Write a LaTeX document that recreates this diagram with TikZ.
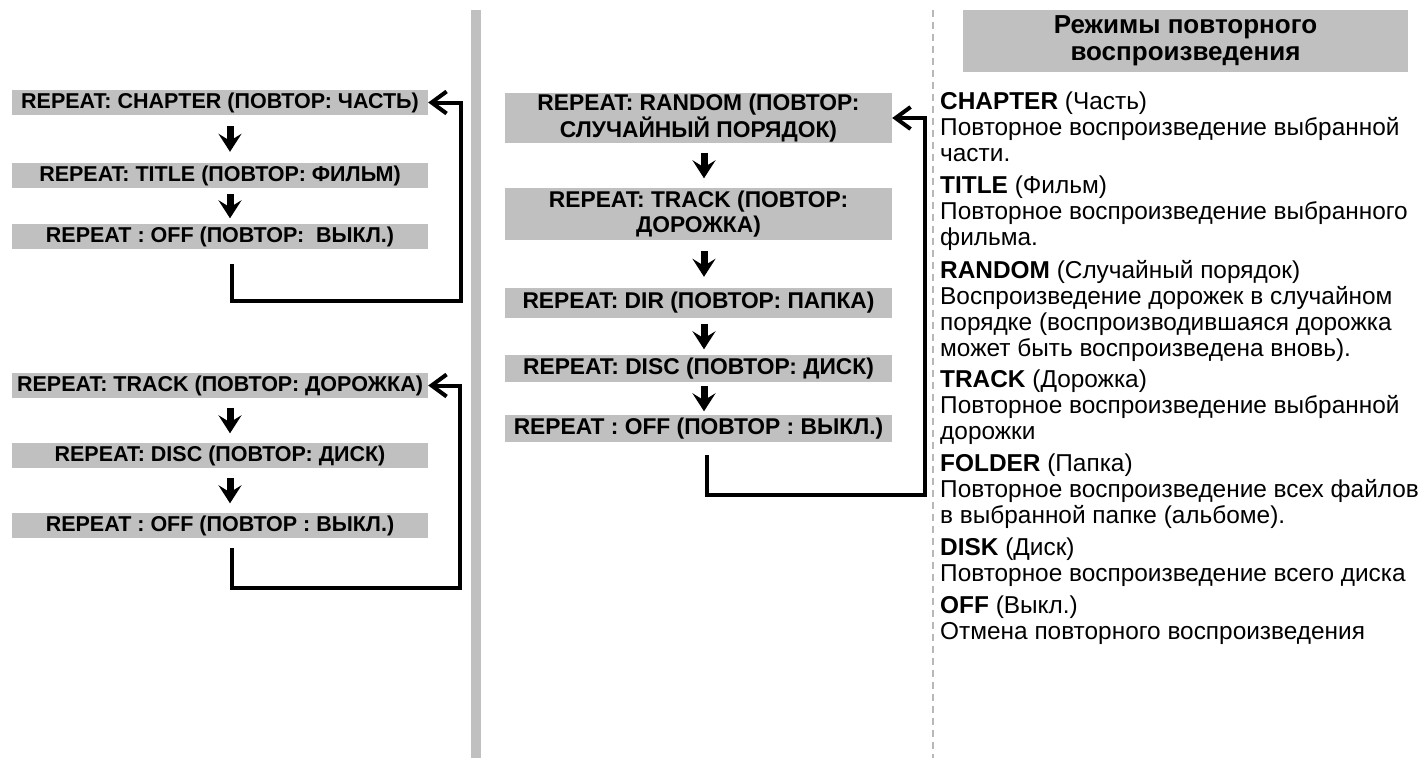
\documentclass[tikz,border=0pt]{standalone}
\usepackage{fontspec}
\setmainfont{Liberation Sans}
\usetikzlibrary{arrows.meta,calc,positioning}
\definecolor{boxGray}{HTML}{C0C0C0}
\definecolor{lineGray}{HTML}{B8B8B8}

\begin{document}
\begin{tikzpicture}[x=1pt,y=-1pt,
  modeBox/.style={fill=boxGray,inner sep=0pt,minimum width=416pt,minimum height=25pt,
    font=\bfseries\fontsize{21.5}{24}\selectfont,align=center},
  midBox/.style={modeBox,minimum width=387pt,minimum height=27pt,
    font=\bfseries\fontsize{22.8}{25}\selectfont},
  downArr/.style={line width=7pt,-{Stealth[length=18pt,width=23pt,inset=7pt]}},
  backArr/.style={line width=4pt,-{Straight Barb[length=15pt,width=22pt]}},
  descText/.style={font=\fontsize{24.4}{26}\selectfont,align=left,inner sep=0pt,
    anchor=north west,execute at begin node=\strut,execute at end node=\strut}]
\useasboundingbox (0,0) rectangle (1425,758);
\fill[boxGray] (471,10) rectangle (481,758);
\draw[lineGray,line width=2pt,dash pattern=on 7pt off 5pt] (933,10) -- (933,758);

% DVD
\node[modeBox] (c1) at (220,102.5) {REPEAT: CHAPTER (ПОВТОР: ЧАСТЬ)};
\node[modeBox] (c2) at (220,175.5) {REPEAT: TITLE (ПОВТОР: ФИЛЬМ)};
\node[modeBox] (c3) at (220,236.5) {REPEAT : OFF (ПОВТОР: \ ВЫКЛ.)};
% CD
\node[modeBox] (t1) at (220,385.5) {REPEAT: TRACK (ПОВТОР: ДОРОЖКА)};
\node[modeBox] (t2) at (220,455.5) {REPEAT: DISC (ПОВТОР: ДИСК)};
\node[modeBox] (t3) at (220,525.5) {REPEAT : OFF (ПОВТОР : ВЫКЛ.)};
% MP3
\node[midBox,minimum height=50pt] (m1) at (698.5,118) {REPEAT: RANDOM (ПОВТОР:\\СЛУЧАЙНЫЙ ПОРЯДОК)};
\node[midBox,minimum height=52pt] (m2) at (698.5,214) {REPEAT: TRACK (ПОВТОР:\\ДОРОЖКА)};
\node[midBox,minimum height=30pt] (m3) at (698.5,303) {REPEAT: DIR (ПОВТОР: ПАПКА)};
\node[midBox] (m4) at (698.5,368.5) {REPEAT: DISC (ПОВТОР: ДИСК)};
\node[midBox] (m5) at (698.5,428.5) {REPEAT : OFF (ПОВТОР : ВЫКЛ.)};

\foreach \a/\b/\s in {c1/c2/11pt,c2/c3/5.5pt,t1/t2/9.5pt,t2/t3/9.5pt}
  \draw[downArr,shorten <=\s,shorten >=\s] ([xshift=10pt]\a.south) -- ([xshift=10pt]\b.north);
\foreach \a/\b/\s in {m1/m2/9.5pt,m2/m3/11pt,m3/m4/5.5pt,m4/m5/3.5pt}
  \draw[downArr,shorten <=\s,shorten >=\s] ([xshift=5.5pt]\a.south) -- ([xshift=5.5pt]\b.north);

\draw[backArr] ([xshift=12pt,yshift=-15pt]c3.south) -- ++(0,37) -| ($(c1.east)+(33,0)$) -- (c1.east);
\draw[backArr] ([xshift=12pt,yshift=-10pt]t3.south) -- ++(0,40) -| ($(t1.east)+(32,0)$) -- (t1.east);
\draw[backArr] ([xshift=8.5pt,yshift=-13pt]m5.south) -- ++(0,40) -| ($(m1.east)+(33,0)$) -- (m1.east);

% legend
\node[fill=boxGray,minimum width=445pt,minimum height=62pt,inner sep=0pt,align=center,
  font=\bfseries\fontsize{26}{27}\selectfont] (ttl) at (1185.5,41) {Режимы повторного\\воспроизведения};
\node[descText] (d1) at (940,92) {\textbf{CHAPTER} (Часть)\\Повторное воспроизведение выбранной\\части.};
\node[descText,below right=6pt and 0pt of d1.south west] (d2) {\textbf{TITLE} (Фильм)\\Повторное воспроизведение выбранного\\фильма.};
\node[descText,below right=6pt and 0pt of d2.south west] (d3) {\textbf{RANDOM} (Случайный порядок)\\Воспроизведение дорожек в случайном\\порядке (воспроизводившаяся дорожка\\может быть воспроизведена вновь).};
\node[descText,below right=6pt and 0pt of d3.south west] (d4) {\textbf{TRACK} (Дорожка)\\Повторное воспроизведение выбранной\\дорожки};
\node[descText,below right=6pt and 0pt of d4.south west] (d5) {\textbf{FOLDER} (Папка)\\Повторное воспроизведение всех файлов\\в выбранной папке (альбоме).};
\node[descText,below right=6pt and 0pt of d5.south west] (d6) {\textbf{DISK} (Диск)\\Повторное воспроизведение всего диска};
\node[descText,below right=6pt and 0pt of d6.south west] (d7) {\textbf{OFF} (Выкл.)\\Отмена повторного воспроизведения};
\end{tikzpicture}
\end{document}
